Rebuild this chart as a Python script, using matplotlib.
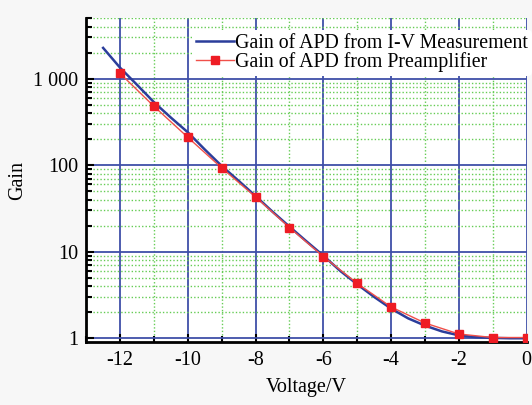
import numpy as np
from matplotlib import pyplot as plt
from matplotlib.ticker import FixedLocator, NullFormatter

plt.rcParams['font.family'] = ['Liberation Serif', 'DejaVu Serif']
plt.rcParams['axes.unicode_minus'] = False

iv_volt = [-12.5, -12, -11.5, -11, -10.5, -10, -9.5, -9, -8.5, -8, -7.5, -7,
           -6.5, -6, -5.5, -5, -4.5, -4, -3.5, -3, -2.5, -2, -1.5, -1, -0.5, 0]
iv_gain = [2270, 1340, 850, 535, 355, 240, 152, 98, 66, 44, 29, 19.5,
           13.2, 9.0, 6.0, 4.2, 3.0, 2.2, 1.7, 1.4, 1.2, 1.08, 1.03, 1.01, 1.0, 1.0]

# preamplifier points
pre_volt = [-12, -11, -10, -9, -8, -7, -6, -5, -4, -3, -2, -1, 0]
pre_gain = [1150, 480, 210, 93, 43, 19, 8.8, 4.3, 2.3, 1.5, 1.12, 1.02, 1.02]

xticks = [-12, -10, -8, -6, -4, -2, 0]
yticks = [1, 10, 100, 1000]
ylabels = ['1', '10', '100', '1 000']

fig = plt.figure(figsize=(5.32, 4.05), dpi=100, facecolor='#f7f7f7')
ax = fig.add_axes([0.162, 0.155, 0.828, 0.80])
ax.set_facecolor('white')

ax.plot(iv_volt, iv_gain, color='#2b3d9b', lw=1.8, label='Gain of APD from I-V Measurement', zorder=4)
ax.plot(pre_volt, pre_gain, color='#f0504a', lw=1.0, marker='s', ms=6,
        mfc='#ee1c24', mec='#ee1c24', label='Gain of APD from Preamplifier', zorder=5)

ax.set_yscale('log')
ax.set_xlim(-13, 0)
ax.set_ylim(0.9, 5000)
ax.set_xticks(xticks)
ax.set_xticks(np.arange(-13, 0, 2), minor=True)
ax.set_yticks(yticks)
ax.set_yticklabels(ylabels)
ax.yaxis.set_minor_locator(FixedLocator([m * 10 ** e for e in range(0, 4) for m in range(2, 10)]))
ax.yaxis.set_minor_formatter(NullFormatter())

ax.grid(which='major', color='#3f4fa8', lw=1.3, ls='-')
ax.grid(which='minor', color='#66cc55', lw=1.0, ls=(0, (1, 1.5)))
ax.set_axisbelow(True)

for s in ['top', 'right']:
    ax.spines[s].set_visible(False)
ax.spines['left'].set_linewidth(2)
ax.spines['bottom'].set_linewidth(2)
ax.tick_params(which='major', direction='in', length=6, width=1.5, labelsize=14.5, pad=6)
ax.tick_params(which='minor', direction='in', length=4, width=1.5)

ax.set_xlabel('Voltage/V', fontsize=14.5, labelpad=6)
ax.set_ylabel('Gain', fontsize=14.5)

leg = ax.legend(loc='upper right', bbox_to_anchor=(1.012, 0.965), fontsize=14.3, frameon=True,
                framealpha=1, edgecolor='white', handlelength=1.9, handletextpad=0.05,
                borderpad=0.2, labelspacing=0.0, borderaxespad=0)
leg.get_frame().set_linewidth(0)

fig.savefig('out.png', dpi=100, facecolor=fig.get_facecolor())
